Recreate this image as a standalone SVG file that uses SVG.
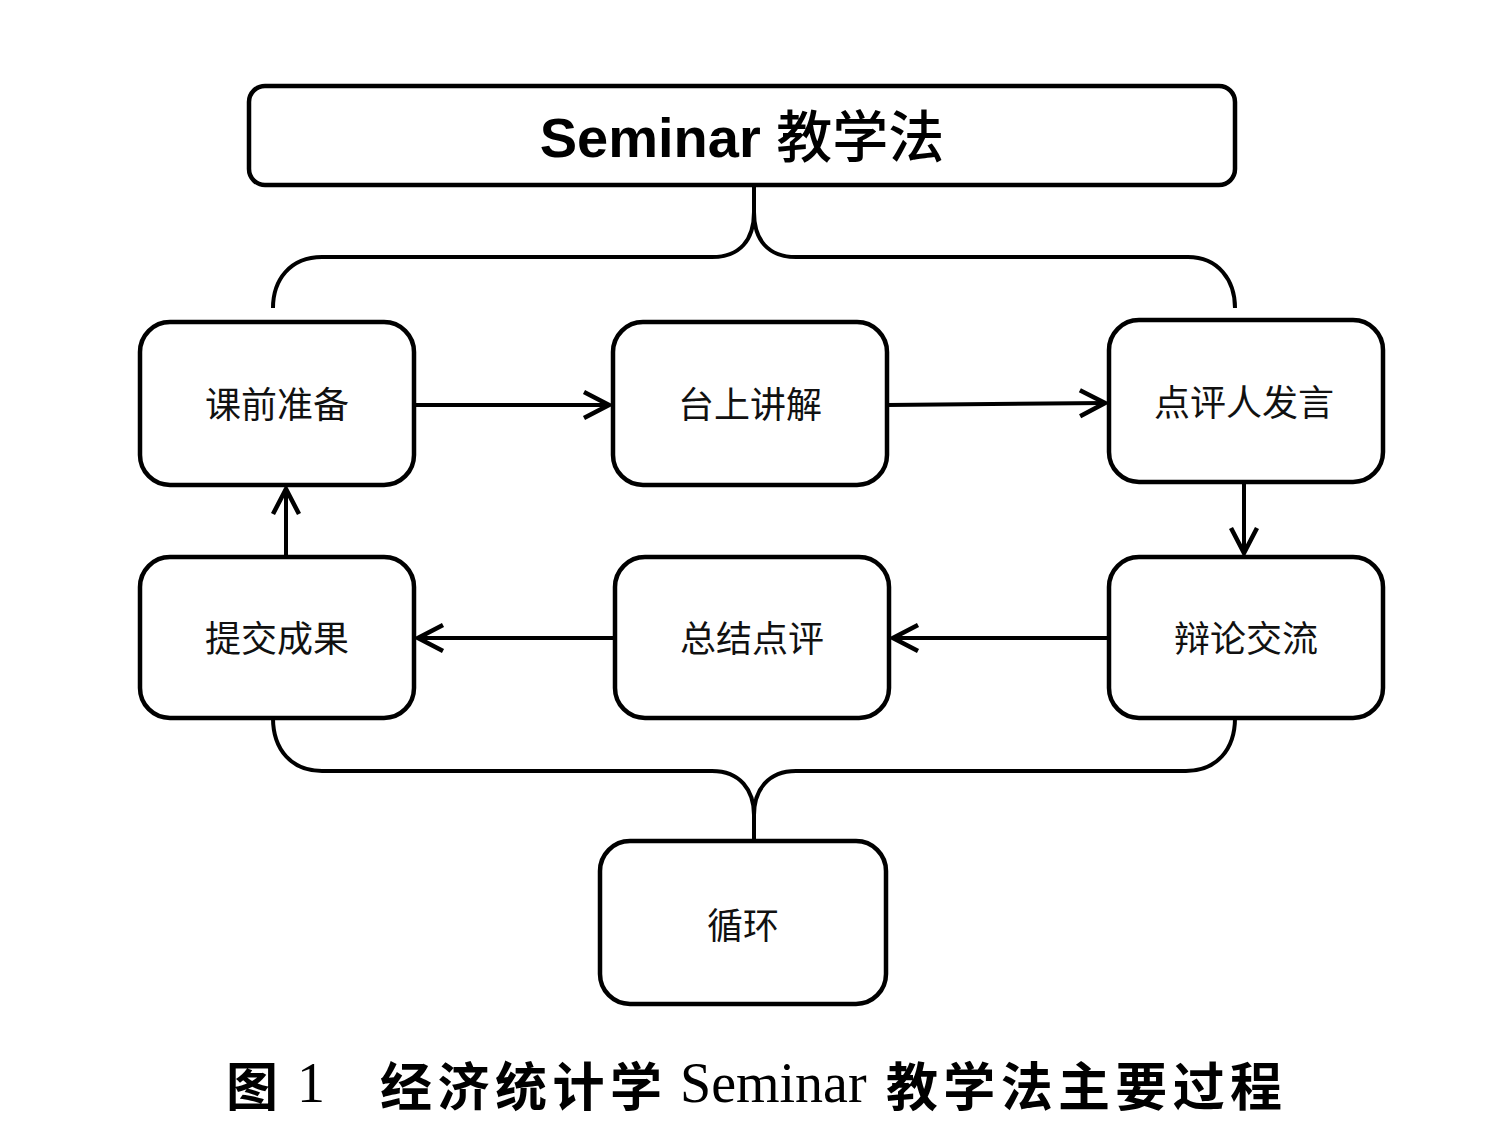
<svg xmlns="http://www.w3.org/2000/svg" width="1492" height="1147" viewBox="0 0 1492 1147">
<defs>
<style>
.box{fill:#fff;stroke:#000;stroke-width:4.5}
.lbl{font-family:"Noto Sans CJK SC","DejaVu Sans",sans-serif;font-size:36px;text-anchor:middle;fill:#111}
.con{fill:none;stroke:#000;stroke-width:4}
.cap{font-family:"Noto Sans CJK SC",sans-serif;font-weight:bold;font-size:52px;fill:#000}
.capl{font-family:"Liberation Serif",serif;font-size:56px;fill:#000}
</style>
<marker id="arr" viewBox="0 0 32 32" refX="29" refY="16" markerWidth="32" markerHeight="32" markerUnits="userSpaceOnUse" orient="auto">
<path d="M4,3 L29,16 L4,29" fill="none" stroke="#000" stroke-width="4.5" stroke-linejoin="miter"/>
</marker>
</defs>
<rect width="1492" height="1147" fill="#fff"/>
<g id="connectors">
<path class="con" d="M754,185 V212 C754,240 740,257 712,257 H322 C290,257 273,280 273,308"/>
<path class="con" d="M754,212 C754,240 768,257 796,257 H1188 C1218,257 1235,280 1235,308"/>
<path class="con" d="M273,718 C273,750 292,771 322,771 H712 C740,771 754,790 754,815 V841"/>
<path class="con" d="M1235,718 C1235,750 1216,771 1186,771 H796 C768,771 754,790 754,815"/>
<line class="con" x1="414" y1="405" x2="609" y2="405" marker-end="url(#arr)"/>
<line class="con" x1="887" y1="405" x2="1105" y2="403" marker-end="url(#arr)"/>
<line class="con" x1="1244" y1="482" x2="1244" y2="553" marker-end="url(#arr)"/>
<line class="con" x1="1109" y1="638" x2="893" y2="638" marker-end="url(#arr)"/>
<line class="con" x1="615" y1="638" x2="418" y2="638" marker-end="url(#arr)"/>
<line class="con" x1="286" y1="557" x2="286" y2="489" marker-end="url(#arr)"/>
</g>
<g id="title">
<rect class="box" x="249" y="86" width="986" height="99" rx="16"/>
<text x="742" y="157" text-anchor="middle" font-family="Liberation Sans,'Noto Sans CJK SC',sans-serif" font-weight="bold" font-size="56">Seminar <tspan font-family="'Noto Sans CJK SC',sans-serif" font-weight="500">教学法</tspan></text>
</g>
<g id="n1"><rect class="box" x="140" y="322" width="274" height="163" rx="30"/><text class="lbl" x="277" y="418">课前准备</text></g>
<g id="n2"><rect class="box" x="613" y="322" width="274" height="163" rx="30"/><text class="lbl" x="750" y="418">台上讲解</text></g>
<g id="n3"><rect class="box" x="1109" y="320" width="274" height="162" rx="30"/><text class="lbl" x="1244" y="416">点评人发言</text></g>
<g id="n4"><rect class="box" x="1109" y="557" width="274" height="161" rx="30"/><text class="lbl" x="1246" y="652">辩论交流</text></g>
<g id="n5"><rect class="box" x="615" y="557" width="274" height="161" rx="30"/><text class="lbl" x="752" y="652">总结点评</text></g>
<g id="n6"><rect class="box" x="140" y="557" width="274" height="161" rx="30"/><text class="lbl" x="277" y="652">提交成果</text></g>
<g id="n7"><rect class="box" x="600" y="841" width="286" height="163" rx="30"/><text class="lbl" x="743" y="939">循环</text></g>
<g id="caption">
<text class="cap" x="226" y="1106">图</text>
<text class="capl" x="297" y="1102">1</text>
<text class="cap" x="380" y="1106" textLength="282" lengthAdjust="spacing">经济统计学</text>
<text class="capl" x="680" y="1102">Seminar</text>
<text class="cap" x="886" y="1106" textLength="396" lengthAdjust="spacing">教学法主要过程</text>
</g>
</svg>
